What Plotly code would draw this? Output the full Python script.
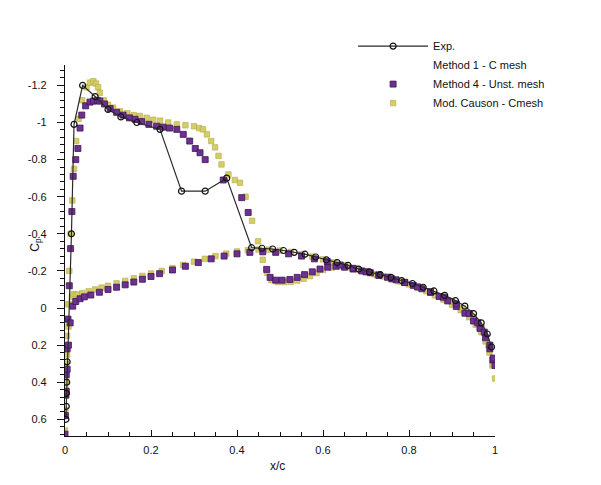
import plotly.graph_objects as go

# ---- Experimental data (upper surface, leading edge to trailing edge) ----
exp_x = [0.002, 0.003, 0.003, 0.004, 0.005, 0.015, 0.021, 0.041, 0.070, 0.100, 0.130,
         0.167, 0.221, 0.271, 0.326, 0.376, 0.434, 0.458, 0.483, 0.508, 0.533, 0.558,
         0.583, 0.608, 0.633, 0.658, 0.683, 0.708, 0.733, 0.758, 0.783, 0.808, 0.833,
         0.858, 0.883, 0.908, 0.930, 0.950, 0.968, 0.982, 0.992]
exp_y = [0.60, 0.53, 0.46, 0.40, 0.29, -0.40, -0.99, -1.20, -1.14, -1.07, -1.03,
         -1.00, -0.963, -0.63, -0.63, -0.70, -0.325, -0.322, -0.318, -0.31, -0.30, -0.29,
         -0.275, -0.26, -0.245, -0.23, -0.21, -0.195, -0.18, -0.165, -0.148, -0.132, -0.112,
         -0.092, -0.068, -0.04, -0.01, 0.03, 0.08, 0.14, 0.21]

# ---- Method 1 - C mesh (listed in legend, no symbol drawn) ----
m1_x = [None]
m1_y = [None]

# ---- Method 4 - Unstructured mesh ----
m4_up_x = [0.000, 0.001, 0.002, 0.003, 0.005, 0.007, 0.010, 0.013, 0.016, 0.019, 0.025,
           0.030, 0.035, 0.039, 0.048, 0.058, 0.066, 0.075, 0.081, 0.092, 0.105, 0.120,
           0.135, 0.150, 0.163, 0.178, 0.195, 0.213, 0.228, 0.243, 0.260, 0.275, 0.290,
           0.303, 0.314, 0.326, 0.368, 0.411, 0.426, 0.469, 0.477, 0.490, 0.505, 0.523,
           0.540, 0.557, 0.575, 0.593, 0.611, 0.630, 0.650, 0.670, 0.690, 0.710, 0.730,
           0.750, 0.770, 0.790, 0.810, 0.830, 0.850, 0.870, 0.890, 0.910, 0.930, 0.950,
           0.965, 0.978, 0.988, 0.995, 1.000]
m4_up_y = [0.68, 0.58, 0.47, 0.36, 0.22, 0.06, -0.12, -0.32, -0.52, -0.71, -0.80,
           -0.86, -0.97, -1.04, -1.09, -1.11, -1.115, -1.12, -1.115, -1.10, -1.075, -1.055,
           -1.04, -1.025, -1.017, -1.005, -0.99, -0.98, -0.975, -0.97, -0.963, -0.936, -0.90,
           -0.86, -0.837, -0.80, -0.69, -0.595, -0.515, -0.208, -0.165, -0.15, -0.15, -0.154,
           -0.165, -0.18, -0.195, -0.21, -0.22, -0.225, -0.22, -0.21, -0.2, -0.19, -0.178,
           -0.166, -0.152, -0.138, -0.122, -0.104, -0.084, -0.062, -0.038, -0.008, 0.028, 0.07,
           0.11, 0.16, 0.22, 0.28, 0.31]
m4_lo_x = [0.003, 0.005, 0.008, 0.012, 0.018, 0.025, 0.035, 0.045, 0.060, 0.080, 0.100,
           0.120, 0.140, 0.160, 0.180, 0.200, 0.220, 0.250, 0.280, 0.310, 0.340, 0.370,
           0.400, 0.430, 0.460, 0.490, 0.520, 0.550, 0.580, 0.610, 0.640, 0.670, 0.700,
           0.730, 0.760, 0.790, 0.820, 0.850, 0.880, 0.910, 0.940, 0.960, 0.975, 0.988, 0.996]
m4_lo_y = [0.45, 0.33, 0.20, 0.08, -0.01, -0.035, -0.05, -0.06, -0.07, -0.085, -0.1,
           -0.112, -0.125, -0.14, -0.155, -0.17, -0.185, -0.205, -0.225, -0.245, -0.265, -0.28,
           -0.292, -0.3, -0.303, -0.3, -0.292, -0.28, -0.265, -0.25, -0.232, -0.214, -0.195,
           -0.176, -0.157, -0.138, -0.114, -0.088, -0.058, -0.022, 0.03, 0.08, 0.13, 0.20, 0.27]

# ---- Modified Causon - C mesh ----
mc_up_x = [0.000, 0.001, 0.002, 0.003, 0.005, 0.007, 0.010, 0.013, 0.017, 0.021, 0.026,
           0.032, 0.040, 0.050, 0.058, 0.066, 0.072, 0.077, 0.081, 0.090, 0.100, 0.112,
           0.128, 0.145, 0.160, 0.174, 0.190, 0.205, 0.221, 0.240, 0.260, 0.280, 0.300,
           0.312, 0.321, 0.330, 0.340, 0.349, 0.357, 0.364, 0.380, 0.395, 0.407, 0.420,
           0.435, 0.449, 0.460, 0.470, 0.480, 0.495, 0.510, 0.525, 0.540, 0.555, 0.570,
           0.585, 0.600, 0.620, 0.640, 0.660, 0.680, 0.700, 0.720, 0.740, 0.760, 0.780,
           0.800, 0.820, 0.840, 0.860, 0.880, 0.900, 0.920, 0.940, 0.955, 0.968, 0.978,
           0.987, 0.994, 1.000]
mc_up_y = [0.66, 0.55, 0.44, 0.30, 0.15, -0.02, -0.20, -0.40, -0.58, -0.75, -0.90,
           -1.02, -1.12, -1.19, -1.215, -1.223, -1.21, -1.19, -1.16, -1.12, -1.095, -1.08,
           -1.06, -1.05, -1.04, -1.035, -1.025, -1.015, -1.01, -1.00, -0.99, -0.985, -0.98,
           -0.97, -0.963, -0.936, -0.90, -0.866, -0.82, -0.774, -0.72, -0.69, -0.675, -0.60,
           -0.47, -0.36, -0.26, -0.19, -0.15, -0.14, -0.14, -0.142, -0.148, -0.158, -0.172,
           -0.188, -0.205, -0.218, -0.224, -0.22, -0.208, -0.195, -0.182, -0.17, -0.157, -0.143,
           -0.128, -0.11, -0.09, -0.068, -0.045, -0.018, 0.012, 0.05, 0.09, 0.13, 0.18,
           0.24, 0.31, 0.38]
mc_lo_x = [0.003, 0.005, 0.008, 0.012, 0.016, 0.020, 0.025, 0.030, 0.040, 0.055, 0.070,
           0.085, 0.100, 0.120, 0.140, 0.160, 0.180, 0.200, 0.225, 0.250, 0.275, 0.300,
           0.325, 0.350, 0.375, 0.400, 0.425, 0.450, 0.475, 0.500, 0.525, 0.550, 0.575,
           0.600, 0.625, 0.650, 0.675, 0.700, 0.725, 0.750, 0.775, 0.800, 0.825, 0.850,
           0.875, 0.900, 0.925, 0.950, 0.970, 0.985, 0.995]
mc_lo_y = [0.40, 0.25, 0.10, -0.02, -0.06, -0.075, -0.072, -0.072, -0.08, -0.09, -0.1,
           -0.11, -0.12, -0.133, -0.146, -0.16, -0.173, -0.186, -0.2, -0.215, -0.232, -0.25,
           -0.265, -0.28, -0.293, -0.305, -0.311, -0.315, -0.315, -0.31, -0.302, -0.29, -0.277,
           -0.262, -0.246, -0.23, -0.212, -0.195, -0.178, -0.162, -0.145, -0.128, -0.108, -0.088,
           -0.063, -0.035, 0.0, 0.05, 0.11, 0.20, 0.30]

# ---- Axis ticks ----
x_ticks = [0, 0.2, 0.4, 0.6, 0.8, 1]
x_labels = ["0", "0.2", "0.4", "0.6", "0.8", "1"]
y_ticks = [-1.2, -1.0, -0.8, -0.6, -0.4, -0.2, 0, 0.2, 0.4, 0.6]
y_labels = ["-1.2", "-1", "-0.8", "-0.6", "-0.4", "-0.2", "0", "0.2", "0.4", "0.6"]

FONT = "Liberation Sans, Arial, sans-serif"
YELLOW = "#d4cd68"
YELLOW_EDGE = "#b3ab45"
PURPLE = "#6e3191"
PURPLE_EDGE = "#3e1656"

fig = go.Figure()

# Mod. Causon (drawn first, underneath)
fig.add_trace(go.Scatter(
    x=mc_up_x + [None] + mc_lo_x, y=mc_up_y + [None] + mc_lo_y,
    mode="markers", name="Mod. Causon - Cmesh", legendrank=4,
    marker=dict(symbol="square", size=5.5, color=YELLOW,
                line=dict(color=YELLOW_EDGE, width=0.6)),
))

# Method 4
fig.add_trace(go.Scatter(
    x=m4_up_x + [None] + m4_lo_x, y=m4_up_y + [None] + m4_lo_y,
    mode="markers", name="Method 4 - Unst. mesh", legendrank=3,
    marker=dict(symbol="square", size=6, color=PURPLE,
                line=dict(color=PURPLE_EDGE, width=0.8)),
))

# Method 1 (no visible symbol)
fig.add_trace(go.Scatter(
    x=m1_x, y=m1_y, mode="markers", name="Method 1 - C mesh", legendrank=2,
    marker=dict(symbol="square", size=6, color="rgba(0,0,0,0)"),
))

# Experiment on top
fig.add_trace(go.Scatter(
    x=exp_x, y=exp_y, mode="lines+markers", name="Exp.", legendrank=1,
    line=dict(color="#2a2a2a", width=1.2),
    marker=dict(symbol="circle-open", size=6, color="#111111",
                line=dict(color="#111111", width=1.2)),
))

fig.update_layout(
    width=601, height=485,
    margin=dict(l=65, r=106, t=65, b=49),
    paper_bgcolor="white", plot_bgcolor="white",
    font=dict(family=FONT, size=11, color="#111111"),
    showlegend=True,
    legend=dict(x=0.67, y=1.09, xanchor="left", yanchor="top",
                bgcolor="rgba(0,0,0,0)", itemwidth=70,
                font=dict(family=FONT, size=11, color="#111111"),
                tracegroupgap=0),
)

fig.update_xaxes(
    range=[0, 1], showgrid=False, zeroline=False,
    showline=True, linecolor="#111111", linewidth=1.2,
    tickmode="array", tickvals=x_ticks, ticktext=x_labels,
    ticks="inside", ticklen=6, tickwidth=1, tickcolor="#111111",
    ticklabelstandoff=4,
    minor=dict(tickmode="linear", tick0=0, dtick=0.05, ticks="inside",
               ticklen=4, tickwidth=1, tickcolor="#111111"),
)

fig.update_yaxes(
    range=[0.69, -1.31], showgrid=False, zeroline=False,
    showline=True, linecolor="#111111", linewidth=1.2,
    tickmode="array", tickvals=y_ticks, ticktext=y_labels,
    ticks="outside", ticklen=7, tickwidth=1, tickcolor="#111111",
    ticklabelstandoff=8,
    minor=dict(tickmode="linear", tick0=0, dtick=0.04, ticks="outside",
               ticklen=4, tickwidth=1, tickcolor="#111111"),
)

fig.add_annotation(text="x/c", xref="paper", yref="paper", x=0.495, y=-0.082,
                   xanchor="center", yanchor="middle", showarrow=False,
                   font=dict(family=FONT, size=12, color="#111111"))
fig.add_annotation(text="C<sub>p</sub>", xref="paper", yref="paper", x=-0.068, y=0.515,
                   xanchor="center", yanchor="middle", showarrow=False, textangle=-90,
                   font=dict(family=FONT, size=12, color="#111111"))

fig.write_html("out.html")
